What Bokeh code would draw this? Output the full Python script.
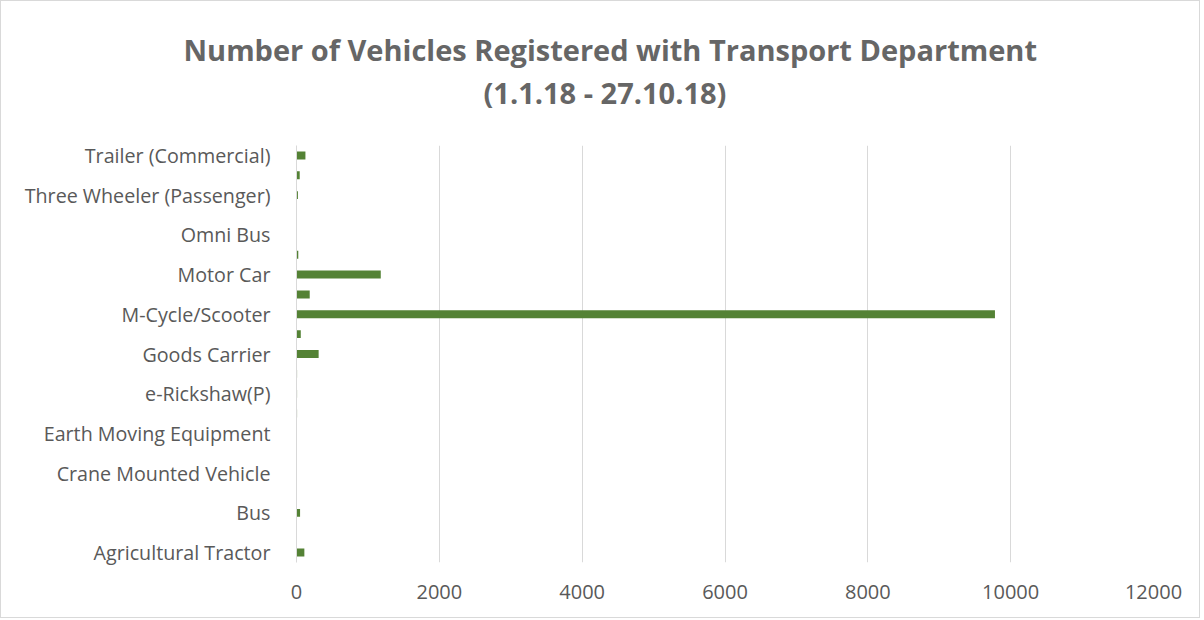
from bokeh.plotting import figure
from bokeh.models import ColumnDataSource, Range1d, FixedTicker, Title
from bokeh.embed import file_html
from bokeh.resources import INLINE

# Categories (bottom to top), every other one labeled on the axis
categories = [
    "Agricultural Tractor", "Ambulance", "Bus", "Construction Equipment Vehicle",
    "Crane Mounted Vehicle", "Dumper", "Earth Moving Equipment", "e-Rickshaw with Cart (G)",
    "e-Rickshaw(P)", "Educational Institution Bus", "Goods Carrier", "Luxury Cab",
    "M-Cycle/Scooter", "Maxi Cab", "Motor Car", "Motorised Cycle (CC > 25cc)",
    "Omni Bus", "Private Service Vehicle", "Three Wheeler (Passenger)", "Tractor (Commercial)",
    "Trailer (Commercial)",
]
counts = [110, 0, 50, 0, 0, 0, 0, 8, 8, 8, 310, 60, 9780, 185, 1180, 25, 0, 0, 20, 45, 125]
x_ticks = [0, 2000, 4000, 6000, 8000, 10000, 12000]
title_lines = ["Number of Vehicles Registered with Transport Department", "(1.1.18 - 27.10.18)"]

FONT = "Open Sans"
GREY = "#595959"
TITLE_GREY = "#666666"

positions = list(range(len(categories)))
source = ColumnDataSource(dict(pos=positions, cat=categories, val=counts))

p = figure(width=1200, height=618, output_backend="svg", toolbar_location=None,
           y_range=Range1d(-0.5, len(categories) - 0.5), x_range=Range1d(0, 12000),
           min_border_left=295, min_border_right=48, min_border_top=144, min_border_bottom=57)
p.title.visible = False
p.outline_line_color = None
p.background_fill_color = "white"
p.border_fill_color = "white"
p.styles = {"border": "1px solid #d9d9d9"}

p.hbar(y="pos", left=0, right="val", height=0.4, source=source,
       fill_color="#548235", line_color=None)

# x axis
p.xaxis.ticker = FixedTicker(ticks=x_ticks)
p.xaxis.axis_line_color = None
p.xaxis.major_tick_line_color = None
p.xaxis.minor_tick_line_color = None
p.xaxis.major_label_text_font = FONT
p.xaxis.major_label_text_font_size = "20px"
p.xaxis.major_label_text_color = GREY
p.xaxis.major_label_standoff = 16

# y axis: every other category labeled
p.yaxis.ticker = FixedTicker(ticks=positions[0::2])
p.yaxis.major_label_overrides = {i: categories[i] for i in positions[0::2]}
p.yaxis.axis_line_color = "#d9d9d9"
p.yaxis.axis_line_width = 1
p.yaxis.major_tick_line_color = None
p.yaxis.minor_tick_line_color = None
p.yaxis.major_label_text_font = FONT
p.yaxis.major_label_text_font_size = "19.7px"
p.yaxis.major_label_text_color = GREY
p.yaxis.major_label_standoff = 20

p.xgrid.grid_line_color = "#d9d9d9"
p.ygrid.grid_line_color = None

# title: blank spacer innermost, then second line, then first line; shifted to centre on the chart box
p.add_layout(Title(text=" ", standoff=12, text_font=FONT, text_font_size="14px"), "above")
p.add_layout(Title(text=title_lines[1], align="left", offset=187, standoff=2,
                   text_font=FONT, text_font_style="bold", text_font_size="29px",
                   text_color=TITLE_GREY), "above")
p.add_layout(Title(text=title_lines[0], align="left", offset=-113, standoff=2,
                   text_font=FONT, text_font_style="bold", text_font_size="29px",
                   text_color=TITLE_GREY), "above")

open("out.html", "w").write(file_html(p, INLINE))
